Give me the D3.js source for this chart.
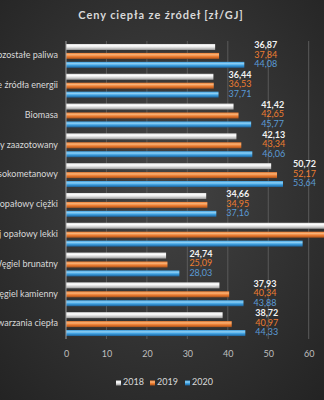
<!DOCTYPE html>
<html><head><meta charset="utf-8">
<script src="https://cdn.jsdelivr.net/npm/d3@7"></script>
<style>
html,body{margin:0;padding:0;background:#333;overflow:hidden}
svg{display:block}
</style></head>
<body>
<svg id="chart" width="324" height="400"></svg>
<script>
const categories = [
  "Pozostałe paliwa",
  "Pozostałe źródła energii",
  "Biomasa",
  "Gaz ziemny zaazotowany",
  "Gaz ziemny wysokometanowy",
  "Olej opałowy ciężki",
  "Olej opałowy lekki",
  "Węgiel brunatny",
  "Węgiel kamienny",
  "Średnia dla wszystkich sposobów wytwarzania ciepła"
];
const seriesNames = ["2018", "2019", "2020"];
const values2018 = [36.87, 36.44, 41.42, 42.13, 50.72, 34.66, 66.0, 24.74, 37.93, 38.72];
const values2019 = [37.84, 36.53, 42.65, 43.34, 52.17, 34.95, 68.0, 25.09, 40.34, 40.97];
const values2020 = [44.08, 37.71, 45.77, 46.06, 53.64, 37.16, 58.50, 28.03, 43.88, 44.33];
const xTicks = [0, 10, 20, 30, 40, 50, 60, 70];
const title = "Ceny ciepła ze źródeł [zł/GJ]";

const seriesValues = [values2018, values2019, values2020];
const colors = {
  "2018": {top:"#ffffff", mid:"#dcdcdc", bot:"#9a9a9a", text:"#f2f2f2"},
  "2019": {top:"#f8b277", mid:"#ed7d31", bot:"#a8511a", text:"#ed7d31"},
  "2020": {top:"#8fd0f5", mid:"#3c9fe0", bot:"#1c5f96", text:"#5b9bd5"}
};

const svg = d3.select("#chart");
const W = 324, H = 400;
const defs = svg.append("defs");

const bg = defs.append("radialGradient").attr("id","bg").attr("cx","50%").attr("cy","45%").attr("r","75%");
bg.append("stop").attr("offset","0%").attr("stop-color","#444444");
bg.append("stop").attr("offset","100%").attr("stop-color","#232323");
svg.append("rect").attr("width",W).attr("height",H).attr("fill","url(#bg)");

seriesNames.forEach((s,i)=>{
  const g = defs.append("linearGradient").attr("id","grad"+i).attr("x1",0).attr("y1",0).attr("x2",0).attr("y2",1);
  g.append("stop").attr("offset","0%").attr("stop-color",colors[s].mid);
  g.append("stop").attr("offset","30%").attr("stop-color",colors[s].top);
  g.append("stop").attr("offset","60%").attr("stop-color",colors[s].mid);
  g.append("stop").attr("offset","100%").attr("stop-color",colors[s].bot);
});

const margin = {left:66, top:41, bottom:61};
const x = d3.scaleLinear().domain([0,70]).range([margin.left, margin.left + 70*4.045]);
const y0 = d3.scaleBand().domain(categories).range([margin.top, margin.top + 29.8*categories.length]).paddingInner(0.2).paddingOuter(0.1);
const y1 = d3.scaleBand().domain(seriesNames).range([0, y0.bandwidth()]).paddingInner(0.33);

const plotTop = margin.top, plotBottom = margin.top + 29.8*categories.length;

// gridlines
svg.append("g").selectAll("line").data(xTicks.filter(t=>t>0)).join("line")
  .attr("x1",d=>x(d)).attr("x2",d=>x(d)).attr("y1",plotTop).attr("y2",plotBottom)
  .attr("stroke","#5a5a5a").attr("stroke-width",1);

// title
svg.append("text").attr("x",161).attr("y",19).attr("text-anchor","middle")
  .attr("font-family","Lato, 'Open Sans', sans-serif").attr("font-weight","bold")
  .attr("font-size",11).attr("letter-spacing",0.9).attr("fill","#d9d9d9").text(title);

// bars
const fmt = v => d3.format(".2f")(v).replace(".", ",");
const groups = svg.append("g").selectAll("g").data(categories).join("g")
  .attr("transform", d=>`translate(0,${y0(d)})`);
groups.selectAll("rect").data((d,ci)=>seriesNames.map((s,si)=>({s,si,v:seriesValues[si][ci]}))).join("rect")
  .attr("x", x(0)).attr("y", d=>y1(d.s)).attr("height", y1.bandwidth())
  .attr("width", d=>x(d.v)-x(0)).attr("fill", d=>`url(#grad${d.si})`);

// data labels
groups.each(function(cat, ci){
  const vals = seriesValues.map(a=>a[ci]);
  const mx = d3.max(vals);
  const cy = y0.bandwidth()/2;
  d3.select(this).selectAll("text.lbl").data(vals).join("text").attr("class","lbl")
    .attr("x", x(mx)+10).attr("y", (d,i)=>cy + (i-1)*9.5 - 0.5)
    .attr("dominant-baseline","middle")
    .attr("font-family","Lato, 'Open Sans', sans-serif").attr("font-size",9)
    .attr("font-weight",(d,i)=>i===0?"bold":"normal")
    .attr("fill",(d,i)=>colors[seriesNames[i]].text).text(d=>fmt(d));
});

// y axis line
svg.append("line").attr("x1",x(0)).attr("x2",x(0)).attr("y1",plotTop).attr("y2",plotBottom)
  .attr("stroke","#a0a0a0").attr("stroke-width",1);

// category labels
svg.append("g").selectAll("text").data(categories).join("text")
  .attr("x", 58).attr("y", d=>y0(d)+y0.bandwidth()/2)
  .attr("text-anchor","end").attr("dominant-baseline","middle")
  .attr("font-family","Lato, 'Open Sans', sans-serif").attr("font-size",9)
  .attr("fill","#d9d9d9").text(d=>d);

// x axis
const xAxis = d3.axisBottom(x).tickValues(xTicks).tickSize(0).tickPadding(8);
const ax = svg.append("g").attr("transform",`translate(0,${plotBottom+4})`).call(xAxis);
ax.select(".domain").remove();
ax.selectAll("text").attr("font-family","Lato, 'Open Sans', sans-serif").attr("font-size",9).attr("fill","#bfbfbf");

// legend
const legX = [116, 150, 185];
const leg = svg.append("g").selectAll("g").data(seriesNames).join("g")
  .attr("transform",(d,i)=>`translate(${legX[i]},383)`);
leg.append("rect").attr("x",0).attr("y",-2.5).attr("width",5).attr("height",5).attr("fill",(d,i)=>`url(#grad${i})`);
leg.append("text").attr("x",7).attr("y",0).attr("dominant-baseline","middle")
  .attr("font-family","Lato, 'Open Sans', sans-serif").attr("font-size",9).attr("fill","#d9d9d9").text(d=>d);
</script>
</body></html>
